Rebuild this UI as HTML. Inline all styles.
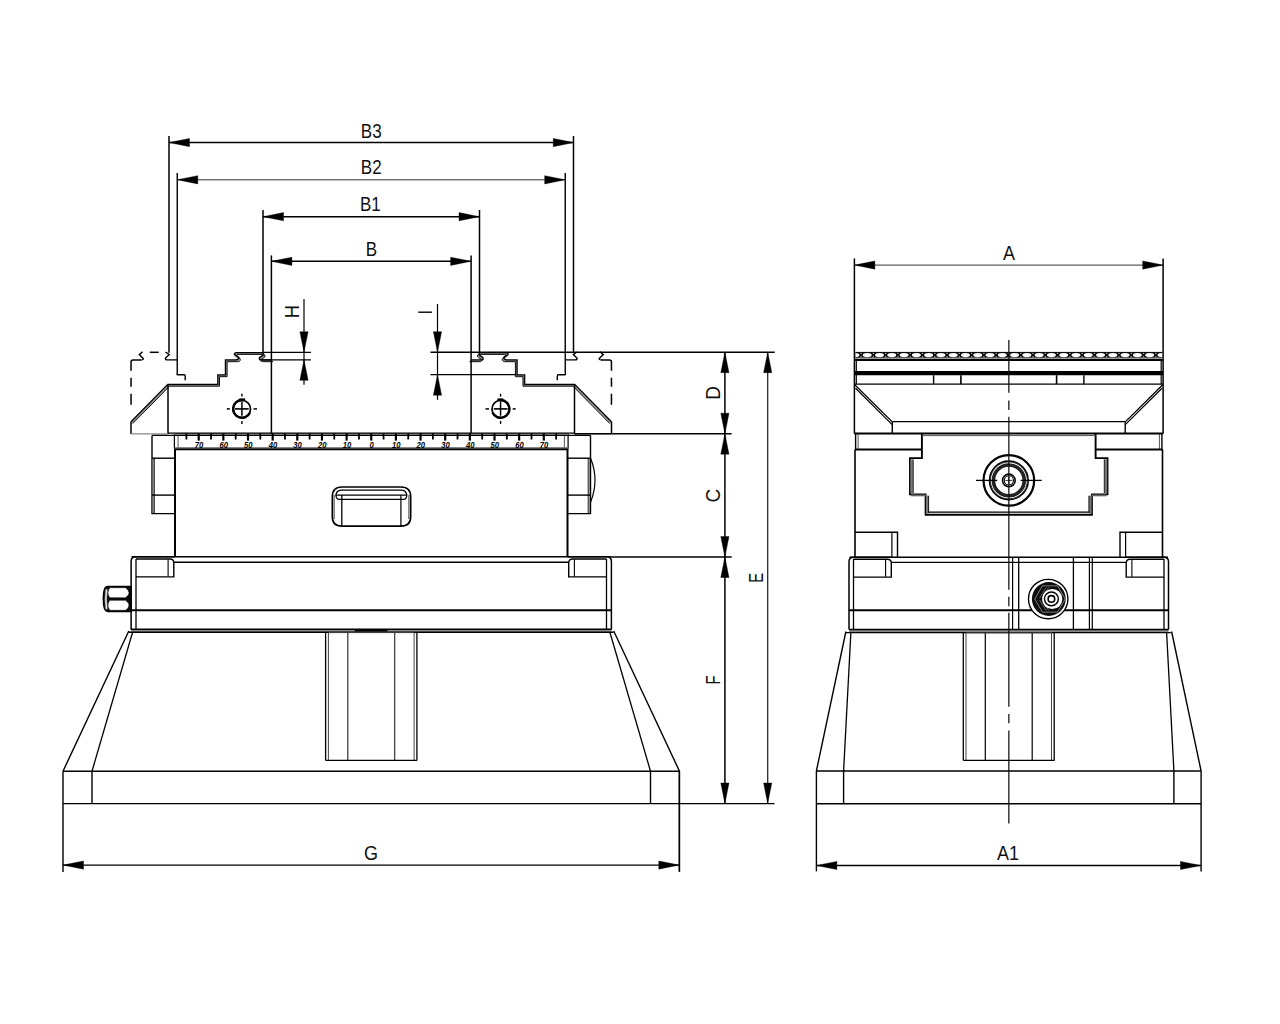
<!DOCTYPE html>
<html><head><meta charset="utf-8"><title>Drawing</title>
<style>html,body{margin:0;padding:0;background:#fff;}svg{display:block;}</style></head>
<body><svg width="1280" height="1024" viewBox="0 0 1280 1024" stroke-linecap="butt">
<rect x="0" y="0" width="1280" height="1024" fill="#fff"/>
<g id="half">
<path d="M131 421.7 L167.8 384.3 L217.8 384.3 L217.8 374.8 L225.4 374.8 L225.4 359.8 L236 359.8 C237.6 359.8 238.6 359.2 238.6 357.6 C238.6 356 236.2 355.6 234.6 354.8 C234 354.2 234.8 352.5 236.4 352.5 L261.6 352.5 C262.8 352.6 263.8 354 263.2 355 C262.2 356.2 259.2 357 259.2 358.2 C259.2 359.4 260.2 359.8 261.4 359.8 L271.4 359.8" stroke="#8a8a8a" stroke-width="1.8" fill="none" transform="translate(0.9,1.0)"/>
<path d="M131 421.7 L167.8 384.3 L217.8 384.3 L217.8 374.8 L225.4 374.8 L225.4 359.8 L236 359.8 C237.6 359.8 238.6 359.2 238.6 357.6 C238.6 356 236.2 355.6 234.6 354.8 C234 354.2 234.8 352.5 236.4 352.5 L261.6 352.5 C262.8 352.6 263.8 354 263.2 355 C262.2 356.2 259.2 357 259.2 358.2 C259.2 359.4 260.2 359.8 261.4 359.8 L271.4 359.8" stroke="#000" stroke-width="1.25" fill="none"/>
<path d="M131 421.7 L167.8 384.3 L217.8 384.3 L217.8 374.8 L225.4 374.8 L225.4 359.8 L236 359.8 C237.6 359.8 238.6 359.2 238.6 357.6 C238.6 356 236.2 355.6 234.6 354.8 C234 354.2 234.8 352.5 236.4 352.5 L261.6 352.5 C262.8 352.6 263.8 354 263.2 355 C262.2 356.2 259.2 357 259.2 358.2 C259.2 359.4 260.2 359.8 261.4 359.8 L271.4 359.8" stroke="#111" stroke-width="1.0" fill="none" transform="translate(1.7,1.9)"/>
<line x1="168" y1="385" x2="168" y2="434" stroke="#000" stroke-width="1.5"/>
<line x1="131" y1="421.7" x2="131" y2="434" stroke="#000" stroke-width="1.5"/>
<line x1="271.4" y1="255.4" x2="271.4" y2="434" stroke="#000" stroke-width="1.5"/>
<circle cx="241.93" cy="408.9" r="8.6" stroke="#000" stroke-width="1.7" fill="none"/>
<path d="M241.93 400 A8.9 8.9 0 1 0 249.93 412.8" stroke="#000" stroke-width="2.4" fill="none"/>
<path d="M239.33 399.5 L245.13 399.5" stroke="#000" stroke-width="2.2" fill="none"/>
<line x1="234.93" y1="408.9" x2="248.73" y2="408.9" stroke="#000" stroke-width="1.6"/>
<line x1="241.93" y1="401.5" x2="241.93" y2="415.7" stroke="#000" stroke-width="1.5"/>
<line x1="226.83" y1="408.9" x2="229.83" y2="408.9" stroke="#000" stroke-width="1.5"/>
<line x1="253.53" y1="408.9" x2="257.03" y2="408.9" stroke="#000" stroke-width="1.5"/>
<line x1="241.93" y1="393.8" x2="241.93" y2="396.6" stroke="#000" stroke-width="1.4"/>
<line x1="241.93" y1="420.9" x2="241.93" y2="423.9" stroke="#000" stroke-width="1.4"/>
<line x1="169" y1="136" x2="169" y2="352.7" stroke="#000" stroke-width="1.5"/>
<path d="M177.25 173 L177.25 372.2 C177.25 373.5 176.6 374.8 177.6 374.8 L184.2 374.8 C185 374.8 185.2 375.5 185.2 376.5 L185.2 380.3" stroke="#000" stroke-width="1.4" fill="none"/>
<line x1="263" y1="210" x2="263" y2="352.7" stroke="#000" stroke-width="1.5"/>
<path d="M141.6 359.9 L133 359.9 Q131.05 359.9 131.05 362 L131.05 405.3" stroke="#000" stroke-width="1.5" fill="none" stroke-dasharray="20.6 7 8.9 7 11"/>
<path d="M141.6 359.9 C143 359.9 143.6 359 143.2 358.4 L139.25 354.6 L142.6 351.8" stroke="#000" stroke-width="1.4" fill="none"/>
<path d="M165.5 352 L169.25 354.6 L165.6 358 C165 358.8 165.8 359.9 166.9 359.9 L177.25 359.9" stroke="#000" stroke-width="1.4" fill="none"/>
<path d="M152 435.4 L152 513.6 L175 513.6" stroke="#000" stroke-width="1.4" fill="none"/>
<line x1="131" y1="433.85" x2="168" y2="433.85" stroke="#888" stroke-width="1.3"/>
<rect x="152.6" y="458.6" width="1.3" height="54.5" fill="#8a8a8a"/>
<line x1="154.3" y1="458.2" x2="154.3" y2="513.4" stroke="#222" stroke-width="1.0"/>
<line x1="152" y1="458.2" x2="175" y2="458.2" stroke="#000" stroke-width="1.4"/>
<line x1="152" y1="495.1" x2="175" y2="495.1" stroke="#000" stroke-width="1.4"/>
<line x1="175" y1="448.7" x2="175" y2="556.7" stroke="#000" stroke-width="2.0"/>
<line x1="174.4" y1="433.9" x2="174.4" y2="448.7" stroke="#000" stroke-width="1.2"/>
<line x1="178.1" y1="433.9" x2="178.1" y2="448.7" stroke="#555" stroke-width="1.0"/>
<path d="M175 556.7 L136 556.7 Q131.1 556.7 131.1 561.5 L131.1 629.8" stroke="#000" stroke-width="1.5" fill="none"/>
<line x1="136" y1="559" x2="136" y2="629.8" stroke="#000" stroke-width="1.3"/>
<path d="M136 576.9 L173.8 576.9 L173.8 563 Q173.8 559 170 559 L136 559" stroke="#000" stroke-width="1.4" fill="none"/>
<line x1="168.1" y1="559.3" x2="168.1" y2="576.6" stroke="#000" stroke-width="1.1"/>
<line x1="128.8" y1="631" x2="63" y2="771.2" stroke="#000" stroke-width="1.4"/>
<line x1="132.6" y1="632.2" x2="92" y2="771.2" stroke="#000" stroke-width="1.3"/>
<line x1="63" y1="771.2" x2="63" y2="871.9" stroke="#000" stroke-width="1.4"/>
<line x1="92" y1="771.2" x2="92" y2="803.6" stroke="#000" stroke-width="1.4"/>
<line x1="325.6" y1="631.5" x2="325.6" y2="760.4" stroke="#000" stroke-width="1.3"/>
<line x1="328.4" y1="632.5" x2="328.4" y2="760.4" stroke="#444" stroke-width="1.0"/>
<line x1="347.8" y1="632.5" x2="347.8" y2="760.4" stroke="#333" stroke-width="1.2"/>
</g>
<g transform="matrix(-1,0,0,1,742.5,0)">
<path d="M131 421.7 L167.8 384.3 L217.8 384.3 L217.8 374.8 L225.4 374.8 L225.4 359.8 L236 359.8 C237.6 359.8 238.6 359.2 238.6 357.6 C238.6 356 236.2 355.6 234.6 354.8 C234 354.2 234.8 352.5 236.4 352.5 L261.6 352.5 C262.8 352.6 263.8 354 263.2 355 C262.2 356.2 259.2 357 259.2 358.2 C259.2 359.4 260.2 359.8 261.4 359.8 L271.4 359.8" stroke="#8a8a8a" stroke-width="1.8" fill="none" transform="translate(0.9,1.0)"/>
<path d="M131 421.7 L167.8 384.3 L217.8 384.3 L217.8 374.8 L225.4 374.8 L225.4 359.8 L236 359.8 C237.6 359.8 238.6 359.2 238.6 357.6 C238.6 356 236.2 355.6 234.6 354.8 C234 354.2 234.8 352.5 236.4 352.5 L261.6 352.5 C262.8 352.6 263.8 354 263.2 355 C262.2 356.2 259.2 357 259.2 358.2 C259.2 359.4 260.2 359.8 261.4 359.8 L271.4 359.8" stroke="#000" stroke-width="1.25" fill="none"/>
<path d="M131 421.7 L167.8 384.3 L217.8 384.3 L217.8 374.8 L225.4 374.8 L225.4 359.8 L236 359.8 C237.6 359.8 238.6 359.2 238.6 357.6 C238.6 356 236.2 355.6 234.6 354.8 C234 354.2 234.8 352.5 236.4 352.5 L261.6 352.5 C262.8 352.6 263.8 354 263.2 355 C262.2 356.2 259.2 357 259.2 358.2 C259.2 359.4 260.2 359.8 261.4 359.8 L271.4 359.8" stroke="#111" stroke-width="1.0" fill="none" transform="translate(1.7,1.9)"/>
<line x1="168" y1="385" x2="168" y2="434" stroke="#000" stroke-width="1.5"/>
<line x1="131" y1="421.7" x2="131" y2="434" stroke="#000" stroke-width="1.5"/>
<line x1="271.4" y1="255.4" x2="271.4" y2="434" stroke="#000" stroke-width="1.5"/>
<circle cx="241.93" cy="408.9" r="8.6" stroke="#000" stroke-width="1.7" fill="none"/>
<path d="M241.93 400 A8.9 8.9 0 1 0 249.93 412.8" stroke="#000" stroke-width="2.4" fill="none"/>
<path d="M239.33 399.5 L245.13 399.5" stroke="#000" stroke-width="2.2" fill="none"/>
<line x1="234.93" y1="408.9" x2="248.73" y2="408.9" stroke="#000" stroke-width="1.6"/>
<line x1="241.93" y1="401.5" x2="241.93" y2="415.7" stroke="#000" stroke-width="1.5"/>
<line x1="226.83" y1="408.9" x2="229.83" y2="408.9" stroke="#000" stroke-width="1.5"/>
<line x1="253.53" y1="408.9" x2="257.03" y2="408.9" stroke="#000" stroke-width="1.5"/>
<line x1="241.93" y1="393.8" x2="241.93" y2="396.6" stroke="#000" stroke-width="1.4"/>
<line x1="241.93" y1="420.9" x2="241.93" y2="423.9" stroke="#000" stroke-width="1.4"/>
<line x1="169" y1="136" x2="169" y2="352.7" stroke="#000" stroke-width="1.5"/>
<path d="M177.25 173 L177.25 372.2 C177.25 373.5 176.6 374.8 177.6 374.8 L184.2 374.8 C185 374.8 185.2 375.5 185.2 376.5 L185.2 380.3" stroke="#000" stroke-width="1.4" fill="none"/>
<line x1="263" y1="210" x2="263" y2="352.7" stroke="#000" stroke-width="1.5"/>
<path d="M141.6 359.9 L133 359.9 Q131.05 359.9 131.05 362 L131.05 405.3" stroke="#000" stroke-width="1.5" fill="none" stroke-dasharray="20.6 7 8.9 7 11"/>
<path d="M141.6 359.9 C143 359.9 143.6 359 143.2 358.4 L139.25 354.6 L142.6 351.8" stroke="#000" stroke-width="1.4" fill="none"/>
<path d="M165.5 352 L169.25 354.6 L165.6 358 C165 358.8 165.8 359.9 166.9 359.9 L177.25 359.9" stroke="#000" stroke-width="1.4" fill="none"/>
<path d="M152 435.4 L152 513.6 L175 513.6" stroke="#000" stroke-width="1.4" fill="none"/>
<line x1="131" y1="433.85" x2="168" y2="433.85" stroke="#888" stroke-width="1.3"/>
<rect x="152.6" y="458.6" width="1.3" height="54.5" fill="#8a8a8a"/>
<line x1="154.3" y1="458.2" x2="154.3" y2="513.4" stroke="#222" stroke-width="1.0"/>
<line x1="152" y1="458.2" x2="175" y2="458.2" stroke="#000" stroke-width="1.4"/>
<line x1="152" y1="495.1" x2="175" y2="495.1" stroke="#000" stroke-width="1.4"/>
<line x1="175" y1="448.7" x2="175" y2="556.7" stroke="#000" stroke-width="2.0"/>
<line x1="174.4" y1="433.9" x2="174.4" y2="448.7" stroke="#000" stroke-width="1.2"/>
<line x1="178.1" y1="433.9" x2="178.1" y2="448.7" stroke="#555" stroke-width="1.0"/>
<path d="M175 556.7 L136 556.7 Q131.1 556.7 131.1 561.5 L131.1 629.8" stroke="#000" stroke-width="1.5" fill="none"/>
<line x1="136" y1="559" x2="136" y2="629.8" stroke="#000" stroke-width="1.3"/>
<path d="M136 576.9 L173.8 576.9 L173.8 563 Q173.8 559 170 559 L136 559" stroke="#000" stroke-width="1.4" fill="none"/>
<line x1="168.1" y1="559.3" x2="168.1" y2="576.6" stroke="#000" stroke-width="1.1"/>
<line x1="128.8" y1="631" x2="63" y2="771.2" stroke="#000" stroke-width="1.4"/>
<line x1="132.6" y1="632.2" x2="92" y2="771.2" stroke="#000" stroke-width="1.3"/>
<line x1="63" y1="771.2" x2="63" y2="871.9" stroke="#000" stroke-width="1.4"/>
<line x1="92" y1="771.2" x2="92" y2="803.6" stroke="#000" stroke-width="1.4"/>
<line x1="325.6" y1="631.5" x2="325.6" y2="760.4" stroke="#000" stroke-width="1.3"/>
<line x1="328.4" y1="632.5" x2="328.4" y2="760.4" stroke="#444" stroke-width="1.0"/>
<line x1="347.8" y1="632.5" x2="347.8" y2="760.4" stroke="#333" stroke-width="1.2"/>
</g>
<line x1="149.8" y1="352.3" x2="158.7" y2="352.3" stroke="#000" stroke-width="1.5"/>
<line x1="169" y1="142.55" x2="573.75" y2="142.55" stroke="#000" stroke-width="1.4"/>
<path d="M169 142.55 L189.5 138.45 L189.5 146.65 Z" fill="#000" stroke="#000" stroke-width="0.4"/>
<path d="M573.75 142.55 L553.25 146.65 L553.25 138.45 Z" fill="#000" stroke="#000" stroke-width="0.4"/>
<line x1="177.3" y1="179.8" x2="565.2" y2="179.8" stroke="#333" stroke-width="1.0"/>
<path d="M177.3 179.8 L197.8 175.7 L197.8 183.9 Z" fill="#000" stroke="#000" stroke-width="0.4"/>
<path d="M565.2 179.8 L544.7 183.9 L544.7 175.7 Z" fill="#000" stroke="#000" stroke-width="0.4"/>
<line x1="263" y1="216.7" x2="479.5" y2="216.7" stroke="#000" stroke-width="1.4"/>
<path d="M263 216.7 L283.5 212.6 L283.5 220.8 Z" fill="#000" stroke="#000" stroke-width="0.4"/>
<path d="M479.5 216.7 L459 220.8 L459 212.6 Z" fill="#000" stroke="#000" stroke-width="0.4"/>
<line x1="271.4" y1="261.3" x2="471.1" y2="261.3" stroke="#000" stroke-width="1.4"/>
<path d="M271.4 261.3 L291.9 257.2 L291.9 265.4 Z" fill="#000" stroke="#000" stroke-width="0.4"/>
<path d="M471.1 261.3 L450.6 265.4 L450.6 257.2 Z" fill="#000" stroke="#000" stroke-width="0.4"/>
<text transform="translate(371.2,137.9) scale(0.85,1)" font-family="Liberation Sans" font-size="20" font-weight="normal" font-style="normal" text-anchor="middle" fill="#111">B3</text>
<text transform="translate(371.2,174.4) scale(0.85,1)" font-family="Liberation Sans" font-size="20" font-weight="normal" font-style="normal" text-anchor="middle" fill="#111">B2</text>
<text transform="translate(370.3,211.3) scale(0.85,1)" font-family="Liberation Sans" font-size="20" font-weight="normal" font-style="normal" text-anchor="middle" fill="#111">B1</text>
<text transform="translate(371.3,256.1) scale(0.85,1)" font-family="Liberation Sans" font-size="20" font-weight="normal" font-style="normal" text-anchor="middle" fill="#111">B</text>
<line x1="262.3" y1="352.3" x2="310.9" y2="352.3" stroke="#000" stroke-width="1.3"/>
<line x1="261.6" y1="359.8" x2="310.9" y2="359.8" stroke="#000" stroke-width="1.3"/>
<line x1="304" y1="299" x2="304" y2="384.7" stroke="#000" stroke-width="1.2"/>
<path d="M304 352.3 L299.9 331.8 L308.1 331.8 Z" fill="#000" stroke="#000" stroke-width="0.4"/>
<path d="M304 359.8 L308.1 380.3 L299.9 380.3 Z" fill="#000" stroke="#000" stroke-width="0.4"/>
<text transform="translate(298.8,311.7) rotate(-90) scale(0.92,1)" font-family="Liberation Sans" font-size="20" font-weight="normal" font-style="normal" text-anchor="middle" fill="#111">H</text>
<line x1="430.5" y1="352.3" x2="774.7" y2="352.3" stroke="#000" stroke-width="1.5"/>
<line x1="430.5" y1="374.7" x2="516.2" y2="374.7" stroke="#000" stroke-width="1.3"/>
<line x1="437.5" y1="304" x2="437.5" y2="399.8" stroke="#000" stroke-width="1.2"/>
<path d="M437.5 352.2 L433.4 331.7 L441.6 331.7 Z" fill="#000" stroke="#000" stroke-width="0.4"/>
<path d="M437.5 374.7 L441.6 395.2 L433.4 395.2 Z" fill="#000" stroke="#000" stroke-width="0.4"/>
<line x1="418.3" y1="312.2" x2="431.9" y2="312.2" stroke="#000" stroke-width="1.4"/>
<rect x="174.4" y="433.1" width="393.7" height="2.4" fill="#9a9a9a"/>
<line x1="168" y1="433.1" x2="574.5" y2="433.1" stroke="#000" stroke-width="1.3"/>
<line x1="152" y1="435.4" x2="590.6" y2="435.4" stroke="#000" stroke-width="1.2"/>
<rect x="174.4" y="447.2" width="393.7" height="1.6" fill="#6a6a6a"/>
<line x1="174.4" y1="449.3" x2="568.1" y2="449.3" stroke="#000" stroke-width="1.8"/>
<line x1="186.38" y1="433.5" x2="186.38" y2="439.5" stroke="#000" stroke-width="1.8"/>
<line x1="198.7" y1="433.5" x2="198.7" y2="440.6" stroke="#000" stroke-width="2.2"/>
<text transform="translate(199,447.6) scale(0.86,1)" font-family="Liberation Sans" font-size="8.9" font-weight="bold" font-style="italic" text-anchor="middle" fill="#000">70</text>
<line x1="211.03" y1="433.5" x2="211.03" y2="439.5" stroke="#000" stroke-width="1.8"/>
<line x1="223.35" y1="433.5" x2="223.35" y2="440.6" stroke="#000" stroke-width="2.2"/>
<text transform="translate(223.65,447.6) scale(0.86,1)" font-family="Liberation Sans" font-size="8.9" font-weight="bold" font-style="italic" text-anchor="middle" fill="#000">60</text>
<line x1="235.68" y1="433.5" x2="235.68" y2="439.5" stroke="#000" stroke-width="1.8"/>
<line x1="248" y1="433.5" x2="248" y2="440.6" stroke="#000" stroke-width="2.2"/>
<text transform="translate(248.3,447.6) scale(0.86,1)" font-family="Liberation Sans" font-size="8.9" font-weight="bold" font-style="italic" text-anchor="middle" fill="#000">50</text>
<line x1="260.32" y1="433.5" x2="260.32" y2="439.5" stroke="#000" stroke-width="1.8"/>
<line x1="272.65" y1="433.5" x2="272.65" y2="440.6" stroke="#000" stroke-width="2.2"/>
<text transform="translate(272.95,447.6) scale(0.86,1)" font-family="Liberation Sans" font-size="8.9" font-weight="bold" font-style="italic" text-anchor="middle" fill="#000">40</text>
<line x1="284.98" y1="433.5" x2="284.98" y2="439.5" stroke="#000" stroke-width="1.8"/>
<line x1="297.3" y1="433.5" x2="297.3" y2="440.6" stroke="#000" stroke-width="2.2"/>
<text transform="translate(297.6,447.6) scale(0.86,1)" font-family="Liberation Sans" font-size="8.9" font-weight="bold" font-style="italic" text-anchor="middle" fill="#000">30</text>
<line x1="309.62" y1="433.5" x2="309.62" y2="439.5" stroke="#000" stroke-width="1.8"/>
<line x1="321.95" y1="433.5" x2="321.95" y2="440.6" stroke="#000" stroke-width="2.2"/>
<text transform="translate(322.25,447.6) scale(0.86,1)" font-family="Liberation Sans" font-size="8.9" font-weight="bold" font-style="italic" text-anchor="middle" fill="#000">20</text>
<line x1="334.27" y1="433.5" x2="334.27" y2="439.5" stroke="#000" stroke-width="1.8"/>
<line x1="346.6" y1="433.5" x2="346.6" y2="440.6" stroke="#000" stroke-width="2.2"/>
<text transform="translate(346.9,447.6) scale(0.86,1)" font-family="Liberation Sans" font-size="8.9" font-weight="bold" font-style="italic" text-anchor="middle" fill="#000">10</text>
<line x1="358.93" y1="433.5" x2="358.93" y2="439.5" stroke="#000" stroke-width="1.8"/>
<line x1="371.25" y1="433.5" x2="371.25" y2="440.6" stroke="#000" stroke-width="2.2"/>
<text transform="translate(371.55,447.6) scale(0.86,1)" font-family="Liberation Sans" font-size="8.9" font-weight="bold" font-style="italic" text-anchor="middle" fill="#000">0</text>
<line x1="383.57" y1="433.5" x2="383.57" y2="439.5" stroke="#000" stroke-width="1.8"/>
<line x1="395.9" y1="433.5" x2="395.9" y2="440.6" stroke="#000" stroke-width="2.2"/>
<text transform="translate(396.2,447.6) scale(0.86,1)" font-family="Liberation Sans" font-size="8.9" font-weight="bold" font-style="italic" text-anchor="middle" fill="#000">10</text>
<line x1="408.23" y1="433.5" x2="408.23" y2="439.5" stroke="#000" stroke-width="1.8"/>
<line x1="420.55" y1="433.5" x2="420.55" y2="440.6" stroke="#000" stroke-width="2.2"/>
<text transform="translate(420.85,447.6) scale(0.86,1)" font-family="Liberation Sans" font-size="8.9" font-weight="bold" font-style="italic" text-anchor="middle" fill="#000">20</text>
<line x1="432.88" y1="433.5" x2="432.88" y2="439.5" stroke="#000" stroke-width="1.8"/>
<line x1="445.2" y1="433.5" x2="445.2" y2="440.6" stroke="#000" stroke-width="2.2"/>
<text transform="translate(445.5,447.6) scale(0.86,1)" font-family="Liberation Sans" font-size="8.9" font-weight="bold" font-style="italic" text-anchor="middle" fill="#000">30</text>
<line x1="457.52" y1="433.5" x2="457.52" y2="439.5" stroke="#000" stroke-width="1.8"/>
<line x1="469.85" y1="433.5" x2="469.85" y2="440.6" stroke="#000" stroke-width="2.2"/>
<text transform="translate(470.15,447.6) scale(0.86,1)" font-family="Liberation Sans" font-size="8.9" font-weight="bold" font-style="italic" text-anchor="middle" fill="#000">40</text>
<line x1="482.18" y1="433.5" x2="482.18" y2="439.5" stroke="#000" stroke-width="1.8"/>
<line x1="494.5" y1="433.5" x2="494.5" y2="440.6" stroke="#000" stroke-width="2.2"/>
<text transform="translate(494.8,447.6) scale(0.86,1)" font-family="Liberation Sans" font-size="8.9" font-weight="bold" font-style="italic" text-anchor="middle" fill="#000">50</text>
<line x1="506.82" y1="433.5" x2="506.82" y2="439.5" stroke="#000" stroke-width="1.8"/>
<line x1="519.15" y1="433.5" x2="519.15" y2="440.6" stroke="#000" stroke-width="2.2"/>
<text transform="translate(519.45,447.6) scale(0.86,1)" font-family="Liberation Sans" font-size="8.9" font-weight="bold" font-style="italic" text-anchor="middle" fill="#000">60</text>
<line x1="531.48" y1="433.5" x2="531.48" y2="439.5" stroke="#000" stroke-width="1.8"/>
<line x1="543.8" y1="433.5" x2="543.8" y2="440.6" stroke="#000" stroke-width="2.2"/>
<text transform="translate(544.1,447.6) scale(0.86,1)" font-family="Liberation Sans" font-size="8.9" font-weight="bold" font-style="italic" text-anchor="middle" fill="#000">70</text>
<line x1="556.12" y1="433.5" x2="556.12" y2="439.5" stroke="#000" stroke-width="1.8"/>
<line x1="131.5" y1="556.8" x2="611" y2="556.8" stroke="#000" stroke-width="1.6"/>
<line x1="173.8" y1="562.3" x2="568.7" y2="562.3" stroke="#000" stroke-width="1.4"/>
<line x1="131.1" y1="610.2" x2="611.4" y2="610.2" stroke="#000" stroke-width="2.0"/>
<rect x="131.1" y="629.6" width="480.3" height="2.4" fill="#8a8a8a"/>
<line x1="131.1" y1="629.3" x2="611.4" y2="629.3" stroke="#000" stroke-width="1.4"/>
<line x1="128.8" y1="632.2" x2="613.7" y2="632.2" stroke="#000" stroke-width="1.4"/>
<path d="M590.6 458.2 Q599.4 480 590.6 502" stroke="#000" stroke-width="1.2" fill="none"/>
<line x1="63" y1="771.2" x2="679.5" y2="771.2" stroke="#000" stroke-width="1.4"/>
<line x1="63" y1="803.6" x2="774.5" y2="803.6" stroke="#000" stroke-width="1.4"/>
<line x1="325.6" y1="760.4" x2="416.9" y2="760.4" stroke="#000" stroke-width="1.4"/>
<line x1="328.4" y1="632.6" x2="414.1" y2="632.6" stroke="#444" stroke-width="1.0"/>
<line x1="354.8" y1="630.6" x2="387.4" y2="630.6" stroke="#000" stroke-width="2.0"/>
<path d="M342 487 L401 487 Q410.7 487 410.7 496.7 L410.7 516.4 Q410.7 526.1 401 526.1 L342 526.1 Q332.3 526.1 332.3 516.4 L332.3 496.7 Q332.3 487 342 487 Z" stroke="#000" stroke-width="1.6" fill="none"/>
<path d="M335.8 495.1 Q336.8 490.2 341.8 490.2 L400.9 490.2 Q405.9 490.2 406.9 495.1" stroke="#000" stroke-width="1.3" fill="none"/>
<line x1="334.1" y1="495" x2="334.1" y2="519" stroke="#222" stroke-width="0.9"/>
<line x1="408.9" y1="495" x2="408.9" y2="519" stroke="#222" stroke-width="0.9"/>
<path d="M335.8 495.1 L406.9 495.1" stroke="#000" stroke-width="1.3" fill="none"/>
<path d="M335.8 495.1 Q336.4 499.3 338.9 499.3 L403.9 499.3 Q406.4 499.3 406.9 495.1" stroke="#000" stroke-width="1.2" fill="none"/>
<line x1="341.8" y1="495.1" x2="341.8" y2="526" stroke="#000" stroke-width="1.3"/>
<line x1="400.9" y1="495.1" x2="400.9" y2="526" stroke="#000" stroke-width="1.2"/>
<path d="M131 586.4 L107.5 586.4 Q103.3 586.4 103.3 599 Q103.3 611.5 107.5 611.5 L131 611.5 Z" stroke="#000" stroke-width="1.4" fill="#0a0a0a"/>
<path d="M109.8 587.7 L125.6 587.7 Q132.4 592.7 125.6 597.7 L109.8 597.7 Q106.2 592.7 109.8 587.7 Z" stroke="#000" stroke-width="0.5" fill="#fff"/>
<path d="M109.8 600.3 L125.6 600.3 Q132.4 605.3 125.6 610.3 L109.8 610.3 Q106.2 605.3 109.8 600.3 Z" stroke="#000" stroke-width="0.5" fill="#fff"/>
<path d="M105.4 589.2 Q104.1 599 105.4 609.2 L107.6 609.2 Q106.2 599 107.6 589.2 Z" stroke="#444" stroke-width="0.6" fill="#eee"/>
<line x1="131" y1="586.4" x2="131" y2="611.5" stroke="#000" stroke-width="1.8"/>
<line x1="63" y1="865.1" x2="679.3" y2="865.1" stroke="#000" stroke-width="1.4"/>
<path d="M63 865.1 L83.5 861 L83.5 869.2 Z" fill="#000" stroke="#000" stroke-width="0.4"/>
<path d="M679.3 865.1 L658.8 869.2 L658.8 861 Z" fill="#000" stroke="#000" stroke-width="0.4"/>
<line x1="679.3" y1="771.2" x2="679.3" y2="871.6" stroke="#000" stroke-width="1.4"/>
<text transform="translate(371,860.3) scale(0.9,1)" font-family="Liberation Sans" font-size="20" font-weight="normal" font-style="normal" text-anchor="middle" fill="#111">G</text>
<line x1="574.5" y1="433.7" x2="731.6" y2="433.7" stroke="#000" stroke-width="1.4"/>
<line x1="611" y1="557" x2="731.7" y2="557" stroke="#000" stroke-width="1.3"/>
<line x1="724.9" y1="352.2" x2="724.9" y2="803.5" stroke="#000" stroke-width="1.5"/>
<line x1="767.7" y1="352.2" x2="767.7" y2="803.5" stroke="#222" stroke-width="1.25"/>
<path d="M724.9 352.2 L729 372.7 L720.8 372.7 Z" fill="#000" stroke="#000" stroke-width="0.4"/>
<path d="M724.9 433.7 L720.8 413.2 L729 413.2 Z" fill="#000" stroke="#000" stroke-width="0.4"/>
<path d="M724.9 433.7 L729 454.2 L720.8 454.2 Z" fill="#000" stroke="#000" stroke-width="0.4"/>
<path d="M724.9 557 L720.8 536.5 L729 536.5 Z" fill="#000" stroke="#000" stroke-width="0.4"/>
<path d="M724.9 557 L729 577.5 L720.8 577.5 Z" fill="#000" stroke="#000" stroke-width="0.4"/>
<path d="M724.9 803.5 L720.8 783 L729 783 Z" fill="#000" stroke="#000" stroke-width="0.4"/>
<path d="M767.7 352.2 L771.8 372.7 L763.6 372.7 Z" fill="#000" stroke="#000" stroke-width="0.4"/>
<path d="M767.7 803.5 L763.6 783 L771.8 783 Z" fill="#000" stroke="#000" stroke-width="0.4"/>
<text transform="translate(719.8,392.8) rotate(-90) scale(0.93,1)" font-family="Liberation Sans" font-size="20.5" font-weight="normal" font-style="normal" text-anchor="middle" fill="#111">D</text>
<text transform="translate(719.9,495.6) rotate(-90) scale(0.93,1)" font-family="Liberation Sans" font-size="20.5" font-weight="normal" font-style="normal" text-anchor="middle" fill="#111">C</text>
<text transform="translate(763,577.9) rotate(-90) scale(0.72,1)" font-family="Liberation Sans" font-size="20.5" font-weight="normal" font-style="normal" text-anchor="middle" fill="#111">E</text>
<text transform="translate(720,679.9) rotate(-90) scale(0.72,1)" font-family="Liberation Sans" font-size="20.5" font-weight="normal" font-style="normal" text-anchor="middle" fill="#111">F</text>
<g>
<line x1="854.4" y1="258.5" x2="854.4" y2="433.6" stroke="#000" stroke-width="1.5"/>
<line x1="856.3" y1="352.6" x2="856.3" y2="384.2" stroke="#000" stroke-width="1.2"/>
<line x1="855" y1="385" x2="892" y2="421.6" stroke="#000" stroke-width="1.3"/>
<line x1="855.5" y1="388.2" x2="892.2" y2="424.6" stroke="#000" stroke-width="1.2"/>
<line x1="892.3" y1="421.6" x2="892.3" y2="433.6" stroke="#000" stroke-width="1.4"/>
<line x1="933.6" y1="375.2" x2="933.6" y2="384.2" stroke="#000" stroke-width="1.4"/>
<line x1="960.9" y1="375.2" x2="960.9" y2="384.2" stroke="#000" stroke-width="1.6"/>
<line x1="855.6" y1="433.6" x2="855.6" y2="449.4" stroke="#000" stroke-width="1.4"/>
<line x1="858.1" y1="434" x2="858.1" y2="449" stroke="#555" stroke-width="1.0"/>
<line x1="855" y1="449.4" x2="921.9" y2="449.4" stroke="#000" stroke-width="2.0"/>
<path d="M921.9 433.6 L921.9 458.1 L910 458.1 L910 494.4 L925.6 494.4 L925.6 514.7 L1008.75 514.7" stroke="#000" stroke-width="1.9" fill="none"/>
<path d="M911.6 459.4 L911.6 493.2" stroke="#777" stroke-width="2.6" fill="none"/>
<line x1="913.2" y1="459.4" x2="913.2" y2="493" stroke="#000" stroke-width="0.9"/>
<path d="M927.2 495.6 L927.2 513.4" stroke="#777" stroke-width="2.6" fill="none"/>
<line x1="928.6" y1="495.8" x2="928.6" y2="512.6" stroke="#000" stroke-width="0.9"/>
<path d="M911 495.4 L926 495.4" stroke="#666" stroke-width="1.8" fill="none"/>
<line x1="855" y1="449.4" x2="855" y2="557" stroke="#000" stroke-width="1.6"/>
<path d="M855 532.2 L897.5 532.2 L897.5 557" stroke="#000" stroke-width="1.4" fill="none"/>
<line x1="891.9" y1="532.4" x2="891.9" y2="557" stroke="#000" stroke-width="1.2"/>
<path d="M891.3 557.2 L853.5 557.2 Q849 557.2 849 561.7 L849 629.6" stroke="#000" stroke-width="1.5" fill="none"/>
<line x1="853.5" y1="559" x2="853.5" y2="629.6" stroke="#000" stroke-width="1.3"/>
<path d="M853.5 577.1 L891.3 577.1 L891.3 563 Q891.3 559.2 887.5 559.2 L853.5 559.2" stroke="#000" stroke-width="1.4" fill="none"/>
<line x1="885.6" y1="559.4" x2="885.6" y2="576.8" stroke="#000" stroke-width="1.1"/>
<line x1="845.9" y1="631.5" x2="816.4" y2="771" stroke="#000" stroke-width="1.4"/>
<line x1="850.9" y1="632.2" x2="843.6" y2="771" stroke="#000" stroke-width="1.3"/>
<line x1="816.4" y1="771" x2="816.4" y2="871.4" stroke="#000" stroke-width="1.4"/>
<line x1="843.6" y1="771" x2="843.6" y2="803.8" stroke="#000" stroke-width="1.4"/>
<line x1="963.3" y1="632" x2="963.3" y2="760.4" stroke="#000" stroke-width="1.3"/>
<line x1="966" y1="632.8" x2="966" y2="760.4" stroke="#444" stroke-width="1.0"/>
<line x1="985.3" y1="632.8" x2="985.3" y2="760.4" stroke="#000" stroke-width="1.2"/>
</g>
<g transform="matrix(-1,0,0,1,2017.5,0)">
<line x1="854.4" y1="258.5" x2="854.4" y2="433.6" stroke="#000" stroke-width="1.5"/>
<line x1="856.3" y1="352.6" x2="856.3" y2="384.2" stroke="#000" stroke-width="1.2"/>
<line x1="855" y1="385" x2="892" y2="421.6" stroke="#000" stroke-width="1.3"/>
<line x1="855.5" y1="388.2" x2="892.2" y2="424.6" stroke="#000" stroke-width="1.2"/>
<line x1="892.3" y1="421.6" x2="892.3" y2="433.6" stroke="#000" stroke-width="1.4"/>
<line x1="933.6" y1="375.2" x2="933.6" y2="384.2" stroke="#000" stroke-width="1.4"/>
<line x1="960.9" y1="375.2" x2="960.9" y2="384.2" stroke="#000" stroke-width="1.6"/>
<line x1="855.6" y1="433.6" x2="855.6" y2="449.4" stroke="#000" stroke-width="1.4"/>
<line x1="858.1" y1="434" x2="858.1" y2="449" stroke="#555" stroke-width="1.0"/>
<line x1="855" y1="449.4" x2="921.9" y2="449.4" stroke="#000" stroke-width="2.0"/>
<path d="M921.9 433.6 L921.9 458.1 L910 458.1 L910 494.4 L925.6 494.4 L925.6 514.7 L1008.75 514.7" stroke="#000" stroke-width="1.9" fill="none"/>
<path d="M911.6 459.4 L911.6 493.2" stroke="#777" stroke-width="2.6" fill="none"/>
<line x1="913.2" y1="459.4" x2="913.2" y2="493" stroke="#000" stroke-width="0.9"/>
<path d="M927.2 495.6 L927.2 513.4" stroke="#777" stroke-width="2.6" fill="none"/>
<line x1="928.6" y1="495.8" x2="928.6" y2="512.6" stroke="#000" stroke-width="0.9"/>
<path d="M911 495.4 L926 495.4" stroke="#666" stroke-width="1.8" fill="none"/>
<line x1="855" y1="449.4" x2="855" y2="557" stroke="#000" stroke-width="1.6"/>
<path d="M855 532.2 L897.5 532.2 L897.5 557" stroke="#000" stroke-width="1.4" fill="none"/>
<line x1="891.9" y1="532.4" x2="891.9" y2="557" stroke="#000" stroke-width="1.2"/>
<path d="M891.3 557.2 L853.5 557.2 Q849 557.2 849 561.7 L849 629.6" stroke="#000" stroke-width="1.5" fill="none"/>
<line x1="853.5" y1="559" x2="853.5" y2="629.6" stroke="#000" stroke-width="1.3"/>
<path d="M853.5 577.1 L891.3 577.1 L891.3 563 Q891.3 559.2 887.5 559.2 L853.5 559.2" stroke="#000" stroke-width="1.4" fill="none"/>
<line x1="885.6" y1="559.4" x2="885.6" y2="576.8" stroke="#000" stroke-width="1.1"/>
<line x1="845.9" y1="631.5" x2="816.4" y2="771" stroke="#000" stroke-width="1.4"/>
<line x1="850.9" y1="632.2" x2="843.6" y2="771" stroke="#000" stroke-width="1.3"/>
<line x1="816.4" y1="771" x2="816.4" y2="871.4" stroke="#000" stroke-width="1.4"/>
<line x1="843.6" y1="771" x2="843.6" y2="803.8" stroke="#000" stroke-width="1.4"/>
<line x1="963.3" y1="632" x2="963.3" y2="760.4" stroke="#000" stroke-width="1.3"/>
<line x1="966" y1="632.8" x2="966" y2="760.4" stroke="#444" stroke-width="1.0"/>
<line x1="985.3" y1="632.8" x2="985.3" y2="760.4" stroke="#000" stroke-width="1.2"/>
</g>
<line x1="854.4" y1="265.1" x2="1163.2" y2="265.1" stroke="#333" stroke-width="1.0"/>
<path d="M854.4 265.1 L874.9 261 L874.9 269.2 Z" fill="#000" stroke="#000" stroke-width="0.4"/>
<path d="M1163.2 265.1 L1142.7 269.2 L1142.7 261 Z" fill="#000" stroke="#000" stroke-width="0.4"/>
<text transform="translate(1009,259.9) scale(0.9,1)" font-family="Liberation Sans" font-size="20" font-weight="normal" font-style="normal" text-anchor="middle" fill="#111">A</text>
<rect x="855.5" y="351.9" width="307" height="5.9" fill="#0a0a0a"/>
<rect x="855.5" y="357.8" width="307" height="1.2" fill="#999"/>
<clipPath id="kc"><rect x="855.6" y="340" width="306.6" height="30"/></clipPath><g clip-path="url(#kc)">
<ellipse cx="854.95" cy="355.1" rx="4.5" ry="2.05" fill="#fff"/>
<rect x="860.39" y="352.9" width="1.4" height="0.9" fill="#ddd"/><rect x="860.39" y="356.4" width="1.4" height="0.9" fill="#ddd"/>
<ellipse cx="867.23" cy="355.1" rx="4.5" ry="2.05" fill="#fff"/>
<rect x="872.67" y="352.9" width="1.4" height="0.9" fill="#ddd"/><rect x="872.67" y="356.4" width="1.4" height="0.9" fill="#ddd"/>
<ellipse cx="879.51" cy="355.1" rx="4.5" ry="2.05" fill="#fff"/>
<rect x="884.95" y="352.9" width="1.4" height="0.9" fill="#ddd"/><rect x="884.95" y="356.4" width="1.4" height="0.9" fill="#ddd"/>
<ellipse cx="891.79" cy="355.1" rx="4.5" ry="2.05" fill="#fff"/>
<rect x="897.23" y="352.9" width="1.4" height="0.9" fill="#ddd"/><rect x="897.23" y="356.4" width="1.4" height="0.9" fill="#ddd"/>
<ellipse cx="904.07" cy="355.1" rx="4.5" ry="2.05" fill="#fff"/>
<rect x="909.51" y="352.9" width="1.4" height="0.9" fill="#ddd"/><rect x="909.51" y="356.4" width="1.4" height="0.9" fill="#ddd"/>
<ellipse cx="916.35" cy="355.1" rx="4.5" ry="2.05" fill="#fff"/>
<rect x="921.79" y="352.9" width="1.4" height="0.9" fill="#ddd"/><rect x="921.79" y="356.4" width="1.4" height="0.9" fill="#ddd"/>
<ellipse cx="928.63" cy="355.1" rx="4.5" ry="2.05" fill="#fff"/>
<rect x="934.07" y="352.9" width="1.4" height="0.9" fill="#ddd"/><rect x="934.07" y="356.4" width="1.4" height="0.9" fill="#ddd"/>
<ellipse cx="940.91" cy="355.1" rx="4.5" ry="2.05" fill="#fff"/>
<rect x="946.35" y="352.9" width="1.4" height="0.9" fill="#ddd"/><rect x="946.35" y="356.4" width="1.4" height="0.9" fill="#ddd"/>
<ellipse cx="953.19" cy="355.1" rx="4.5" ry="2.05" fill="#fff"/>
<rect x="958.63" y="352.9" width="1.4" height="0.9" fill="#ddd"/><rect x="958.63" y="356.4" width="1.4" height="0.9" fill="#ddd"/>
<ellipse cx="965.47" cy="355.1" rx="4.5" ry="2.05" fill="#fff"/>
<rect x="970.91" y="352.9" width="1.4" height="0.9" fill="#ddd"/><rect x="970.91" y="356.4" width="1.4" height="0.9" fill="#ddd"/>
<ellipse cx="977.75" cy="355.1" rx="4.5" ry="2.05" fill="#fff"/>
<rect x="983.19" y="352.9" width="1.4" height="0.9" fill="#ddd"/><rect x="983.19" y="356.4" width="1.4" height="0.9" fill="#ddd"/>
<ellipse cx="990.03" cy="355.1" rx="4.5" ry="2.05" fill="#fff"/>
<rect x="995.47" y="352.9" width="1.4" height="0.9" fill="#ddd"/><rect x="995.47" y="356.4" width="1.4" height="0.9" fill="#ddd"/>
<ellipse cx="1002.31" cy="355.1" rx="4.5" ry="2.05" fill="#fff"/>
<rect x="1007.75" y="352.9" width="1.4" height="0.9" fill="#ddd"/><rect x="1007.75" y="356.4" width="1.4" height="0.9" fill="#ddd"/>
<ellipse cx="1014.59" cy="355.1" rx="4.5" ry="2.05" fill="#fff"/>
<rect x="1020.03" y="352.9" width="1.4" height="0.9" fill="#ddd"/><rect x="1020.03" y="356.4" width="1.4" height="0.9" fill="#ddd"/>
<ellipse cx="1026.87" cy="355.1" rx="4.5" ry="2.05" fill="#fff"/>
<rect x="1032.31" y="352.9" width="1.4" height="0.9" fill="#ddd"/><rect x="1032.31" y="356.4" width="1.4" height="0.9" fill="#ddd"/>
<ellipse cx="1039.15" cy="355.1" rx="4.5" ry="2.05" fill="#fff"/>
<rect x="1044.59" y="352.9" width="1.4" height="0.9" fill="#ddd"/><rect x="1044.59" y="356.4" width="1.4" height="0.9" fill="#ddd"/>
<ellipse cx="1051.43" cy="355.1" rx="4.5" ry="2.05" fill="#fff"/>
<rect x="1056.87" y="352.9" width="1.4" height="0.9" fill="#ddd"/><rect x="1056.87" y="356.4" width="1.4" height="0.9" fill="#ddd"/>
<ellipse cx="1063.71" cy="355.1" rx="4.5" ry="2.05" fill="#fff"/>
<rect x="1069.15" y="352.9" width="1.4" height="0.9" fill="#ddd"/><rect x="1069.15" y="356.4" width="1.4" height="0.9" fill="#ddd"/>
<ellipse cx="1075.99" cy="355.1" rx="4.5" ry="2.05" fill="#fff"/>
<rect x="1081.43" y="352.9" width="1.4" height="0.9" fill="#ddd"/><rect x="1081.43" y="356.4" width="1.4" height="0.9" fill="#ddd"/>
<ellipse cx="1088.27" cy="355.1" rx="4.5" ry="2.05" fill="#fff"/>
<rect x="1093.71" y="352.9" width="1.4" height="0.9" fill="#ddd"/><rect x="1093.71" y="356.4" width="1.4" height="0.9" fill="#ddd"/>
<ellipse cx="1100.55" cy="355.1" rx="4.5" ry="2.05" fill="#fff"/>
<rect x="1105.99" y="352.9" width="1.4" height="0.9" fill="#ddd"/><rect x="1105.99" y="356.4" width="1.4" height="0.9" fill="#ddd"/>
<ellipse cx="1112.83" cy="355.1" rx="4.5" ry="2.05" fill="#fff"/>
<rect x="1118.27" y="352.9" width="1.4" height="0.9" fill="#ddd"/><rect x="1118.27" y="356.4" width="1.4" height="0.9" fill="#ddd"/>
<ellipse cx="1125.11" cy="355.1" rx="4.5" ry="2.05" fill="#fff"/>
<rect x="1130.55" y="352.9" width="1.4" height="0.9" fill="#ddd"/><rect x="1130.55" y="356.4" width="1.4" height="0.9" fill="#ddd"/>
<ellipse cx="1137.39" cy="355.1" rx="4.5" ry="2.05" fill="#fff"/>
<rect x="1142.83" y="352.9" width="1.4" height="0.9" fill="#ddd"/><rect x="1142.83" y="356.4" width="1.4" height="0.9" fill="#ddd"/>
<ellipse cx="1149.67" cy="355.1" rx="4.5" ry="2.05" fill="#fff"/>
<rect x="1155.11" y="352.9" width="1.4" height="0.9" fill="#ddd"/><rect x="1155.11" y="356.4" width="1.4" height="0.9" fill="#ddd"/>
<ellipse cx="1161.95" cy="355.1" rx="4.5" ry="2.05" fill="#fff"/>
<rect x="1167.39" y="352.9" width="1.4" height="0.9" fill="#ddd"/><rect x="1167.39" y="356.4" width="1.4" height="0.9" fill="#ddd"/>
</g>
<line x1="854.5" y1="360.05" x2="1163.2" y2="360.05" stroke="#000" stroke-width="2.0"/>
<line x1="854.5" y1="373.2" x2="1163.2" y2="373.2" stroke="#000" stroke-width="4.2"/>
<line x1="854.5" y1="384.1" x2="1163.2" y2="384.1" stroke="#000" stroke-width="1.4"/>
<line x1="892.3" y1="421.6" x2="1125.2" y2="421.6" stroke="#000" stroke-width="1.4"/>
<line x1="854.5" y1="433.6" x2="1163.2" y2="433.6" stroke="#000" stroke-width="2.0"/>
<line x1="921.9" y1="435.6" x2="1095.6" y2="435.6" stroke="#555" stroke-width="1.0"/>
<line x1="928" y1="512.2" x2="1089.5" y2="512.2" stroke="#000" stroke-width="1.2"/>
<circle cx="1008.85" cy="480.4" r="25.3" stroke="#000" stroke-width="2.2" fill="none"/>
<circle cx="1008.85" cy="480.4" r="19.4" stroke="#000" stroke-width="1.4" fill="none"/>
<circle cx="1008.85" cy="480.4" r="18.5" stroke="#000" stroke-width="0.8" fill="none"/>
<circle cx="1008.85" cy="480.4" r="15.4" stroke="#222" stroke-width="3.6" fill="none"/>
<circle cx="1008.85" cy="480.4" r="6.3" stroke="#000" stroke-width="1.6" fill="none"/>
<circle cx="1008.85" cy="480.4" r="4.6" stroke="#000" stroke-width="1.1" fill="none"/>
<line x1="1005.35" y1="480.4" x2="1012.35" y2="480.4" stroke="#000" stroke-width="0.8"/>
<line x1="1008.85" y1="476.9" x2="1008.85" y2="483.9" stroke="#000" stroke-width="0.8"/>
<line x1="976" y1="480.4" x2="997.2" y2="480.4" stroke="#000" stroke-width="1.3"/>
<line x1="1020.6" y1="480.4" x2="1041.7" y2="480.4" stroke="#000" stroke-width="1.3"/>
<line x1="849.5" y1="557.2" x2="1168" y2="557.2" stroke="#000" stroke-width="1.6"/>
<line x1="891.3" y1="562.4" x2="1126.9" y2="562.4" stroke="#000" stroke-width="1.4"/>
<line x1="849" y1="610.3" x2="1168.5" y2="610.3" stroke="#000" stroke-width="2.0"/>
<rect x="849" y="629.8" width="319.5" height="2.5" fill="#8a8a8a"/>
<line x1="849" y1="629.4" x2="1168.5" y2="629.4" stroke="#000" stroke-width="1.5"/>
<line x1="845.9" y1="632.6" x2="1170.8" y2="632.6" stroke="#000" stroke-width="1.4"/>
<line x1="1012.6" y1="557.5" x2="1012.6" y2="629.6" stroke="#000" stroke-width="1.2"/>
<line x1="1018.7" y1="557.5" x2="1018.7" y2="629.6" stroke="#000" stroke-width="1.3"/>
<line x1="1073.4" y1="557.5" x2="1073.4" y2="629.6" stroke="#000" stroke-width="1.3"/>
<line x1="1089.4" y1="557.5" x2="1089.4" y2="629.6" stroke="#000" stroke-width="1.2"/>
<line x1="1092.3" y1="557.5" x2="1092.3" y2="629.6" stroke="#000" stroke-width="1.2"/>
<circle cx="1048.2" cy="599" r="19.7" fill="#fff" stroke="#000" stroke-width="1.35"/>
<circle cx="1048.8" cy="599" r="16.9" fill="#0d0d0d"/>
<path d="M1065.2 599 L1057.6 612.16 L1042.4 612.16 L1034.8 599 L1042.4 585.84 L1057.6 585.84 Z" stroke="#9a9a9a" stroke-width="0.8" fill="none"/>
<line x1="1039.6" y1="598" x2="1046.2" y2="587.5" stroke="#888" stroke-width="0.7"/>
<line x1="1039.6" y1="600" x2="1046.2" y2="610.5" stroke="#888" stroke-width="0.7"/>
<line x1="1042.1" y1="598" x2="1048.7" y2="587.5" stroke="#888" stroke-width="0.7"/>
<line x1="1042.1" y1="600" x2="1048.7" y2="610.5" stroke="#888" stroke-width="0.7"/>
<circle cx="1052.2" cy="599" r="10.1" fill="#fff"/>
<circle cx="1051.4" cy="598.9" r="6.9" stroke="#000" stroke-width="1.4" fill="none"/>
<circle cx="1051.4" cy="598.9" r="3.3" stroke="#000" stroke-width="1.6" fill="none"/>
<line x1="816.4" y1="771" x2="1201" y2="771" stroke="#000" stroke-width="1.4"/>
<line x1="816.4" y1="803.8" x2="1201" y2="803.8" stroke="#000" stroke-width="1.4"/>
<line x1="963.3" y1="760.4" x2="1054.6" y2="760.4" stroke="#000" stroke-width="1.4"/>
<line x1="966" y1="632.8" x2="1052" y2="632.8" stroke="#444" stroke-width="1.0"/>
<path d="M1008.85 340 L1008.85 823.6" stroke="#111" stroke-width="1.25" fill="none" stroke-dasharray="52.8 7.6 9.5 6.9 173 6.9 9.5 6.6 94 7.2 9.2 7.2 94"/>
<line x1="816.4" y1="865.5" x2="1201" y2="865.5" stroke="#000" stroke-width="1.4"/>
<path d="M816.4 865.5 L836.9 861.4 L836.9 869.6 Z" fill="#000" stroke="#000" stroke-width="0.4"/>
<path d="M1201 865.5 L1180.5 869.6 L1180.5 861.4 Z" fill="#000" stroke="#000" stroke-width="0.4"/>
<text transform="translate(1008,859.9) scale(0.9,1)" font-family="Liberation Sans" font-size="20" font-weight="normal" font-style="normal" text-anchor="middle" fill="#111">A1</text>
</svg></body></html>
